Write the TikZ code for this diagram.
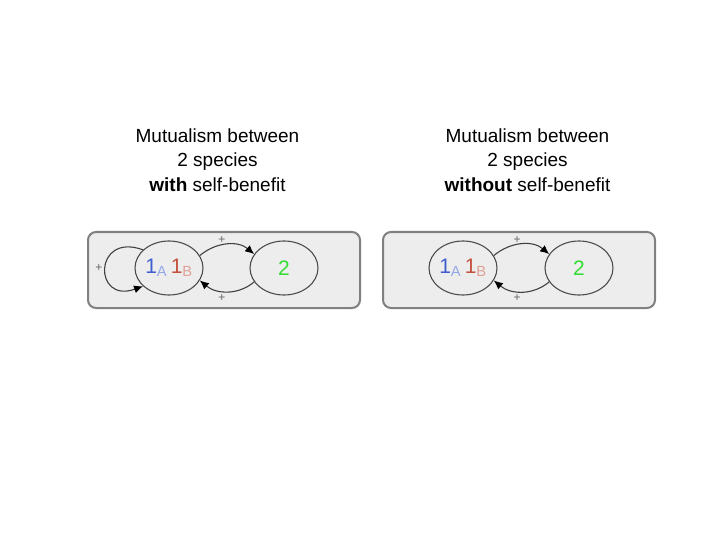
\documentclass[tikz,border=0pt]{standalone}
\usepackage{fontspec}
\setmainfont{Liberation Sans}
\usetikzlibrary{shapes.geometric,arrows.meta}

\definecolor{sideblue}{HTML}{3F5FD0}
\definecolor{sidered}{HTML}{C4513C}
\definecolor{partner}{HTML}{33DD33}

\begin{document}
\begin{tikzpicture}[x=1pt,y=-1pt,>={Latex[length=9pt,width=8pt,color=black]},
  species/.style={ellipse,draw=black!70,line width=1.1pt,minimum width=68pt,
    minimum height=54pt,inner sep=0pt,font=\fontsize{21}{21}\selectfont},
  panel/.style={draw=black!50,line width=2pt,fill=black!7,rounded corners=8pt},
  title/.style={align=center,font=\fontsize{19}{24.5}\selectfont},
  sign/.style={font=\fontsize{12}{12}\selectfont,text=black!60,inner sep=0pt},
  link/.style={->,line width=1.1pt,draw=black!75}]

  \useasboundingbox (0,0) rectangle (720,540);

  % titles
  \node[title] (ltitle) at (217.5,160) {Mutualism between\\2 species\\\textbf{with} self-benefit};
  \node[title] (rtitle) at (527.5,160) {Mutualism between\\2 species\\\textbf{without} self-benefit};

  % left panel: with self-benefit
  \draw[panel] (88,232) rectangle (360,308);
  \node[species] (lsp1) at (169,268) {\textcolor{sideblue}{1}\textsubscript{\textcolor{sideblue!55}{A}}\,\textcolor{sidered}{1}\textsubscript{\textcolor{sidered!55}{B}}};
  \node[species] (lsp2) at (284,268) {\textcolor{partner}{2}};
  \draw[link] (lsp1.22) to[out=40,in=140] (lsp2.155);
  \draw[link] (lsp2.205) to[out=220,in=320] (lsp1.338);
  \draw[link] (lsp1.145) to[out=160,in=200,looseness=3.75] (lsp1.215);
  \node[sign] (lplus1) at (222,240) {+};
  \node[sign] (lplus2) at (222,298) {+};
  \node[sign] (lplus3) at (99,268) {+};

  % right panel: without self-benefit
  \draw[panel] (383,232) rectangle (655,308);
  \node[species] (rsp1) at (463,268) {\textcolor{sideblue}{1}\textsubscript{\textcolor{sideblue!55}{A}}\,\textcolor{sidered}{1}\textsubscript{\textcolor{sidered!55}{B}}};
  \node[species] (rsp2) at (579,268) {\textcolor{partner}{2}};
  \draw[link] (rsp1.22) to[out=40,in=140] (rsp2.155);
  \draw[link] (rsp2.205) to[out=220,in=320] (rsp1.338);
  \node[sign] (rplus1) at (517,240) {+};
  \node[sign] (rplus2) at (517,298) {+};
\end{tikzpicture}
\end{document}
